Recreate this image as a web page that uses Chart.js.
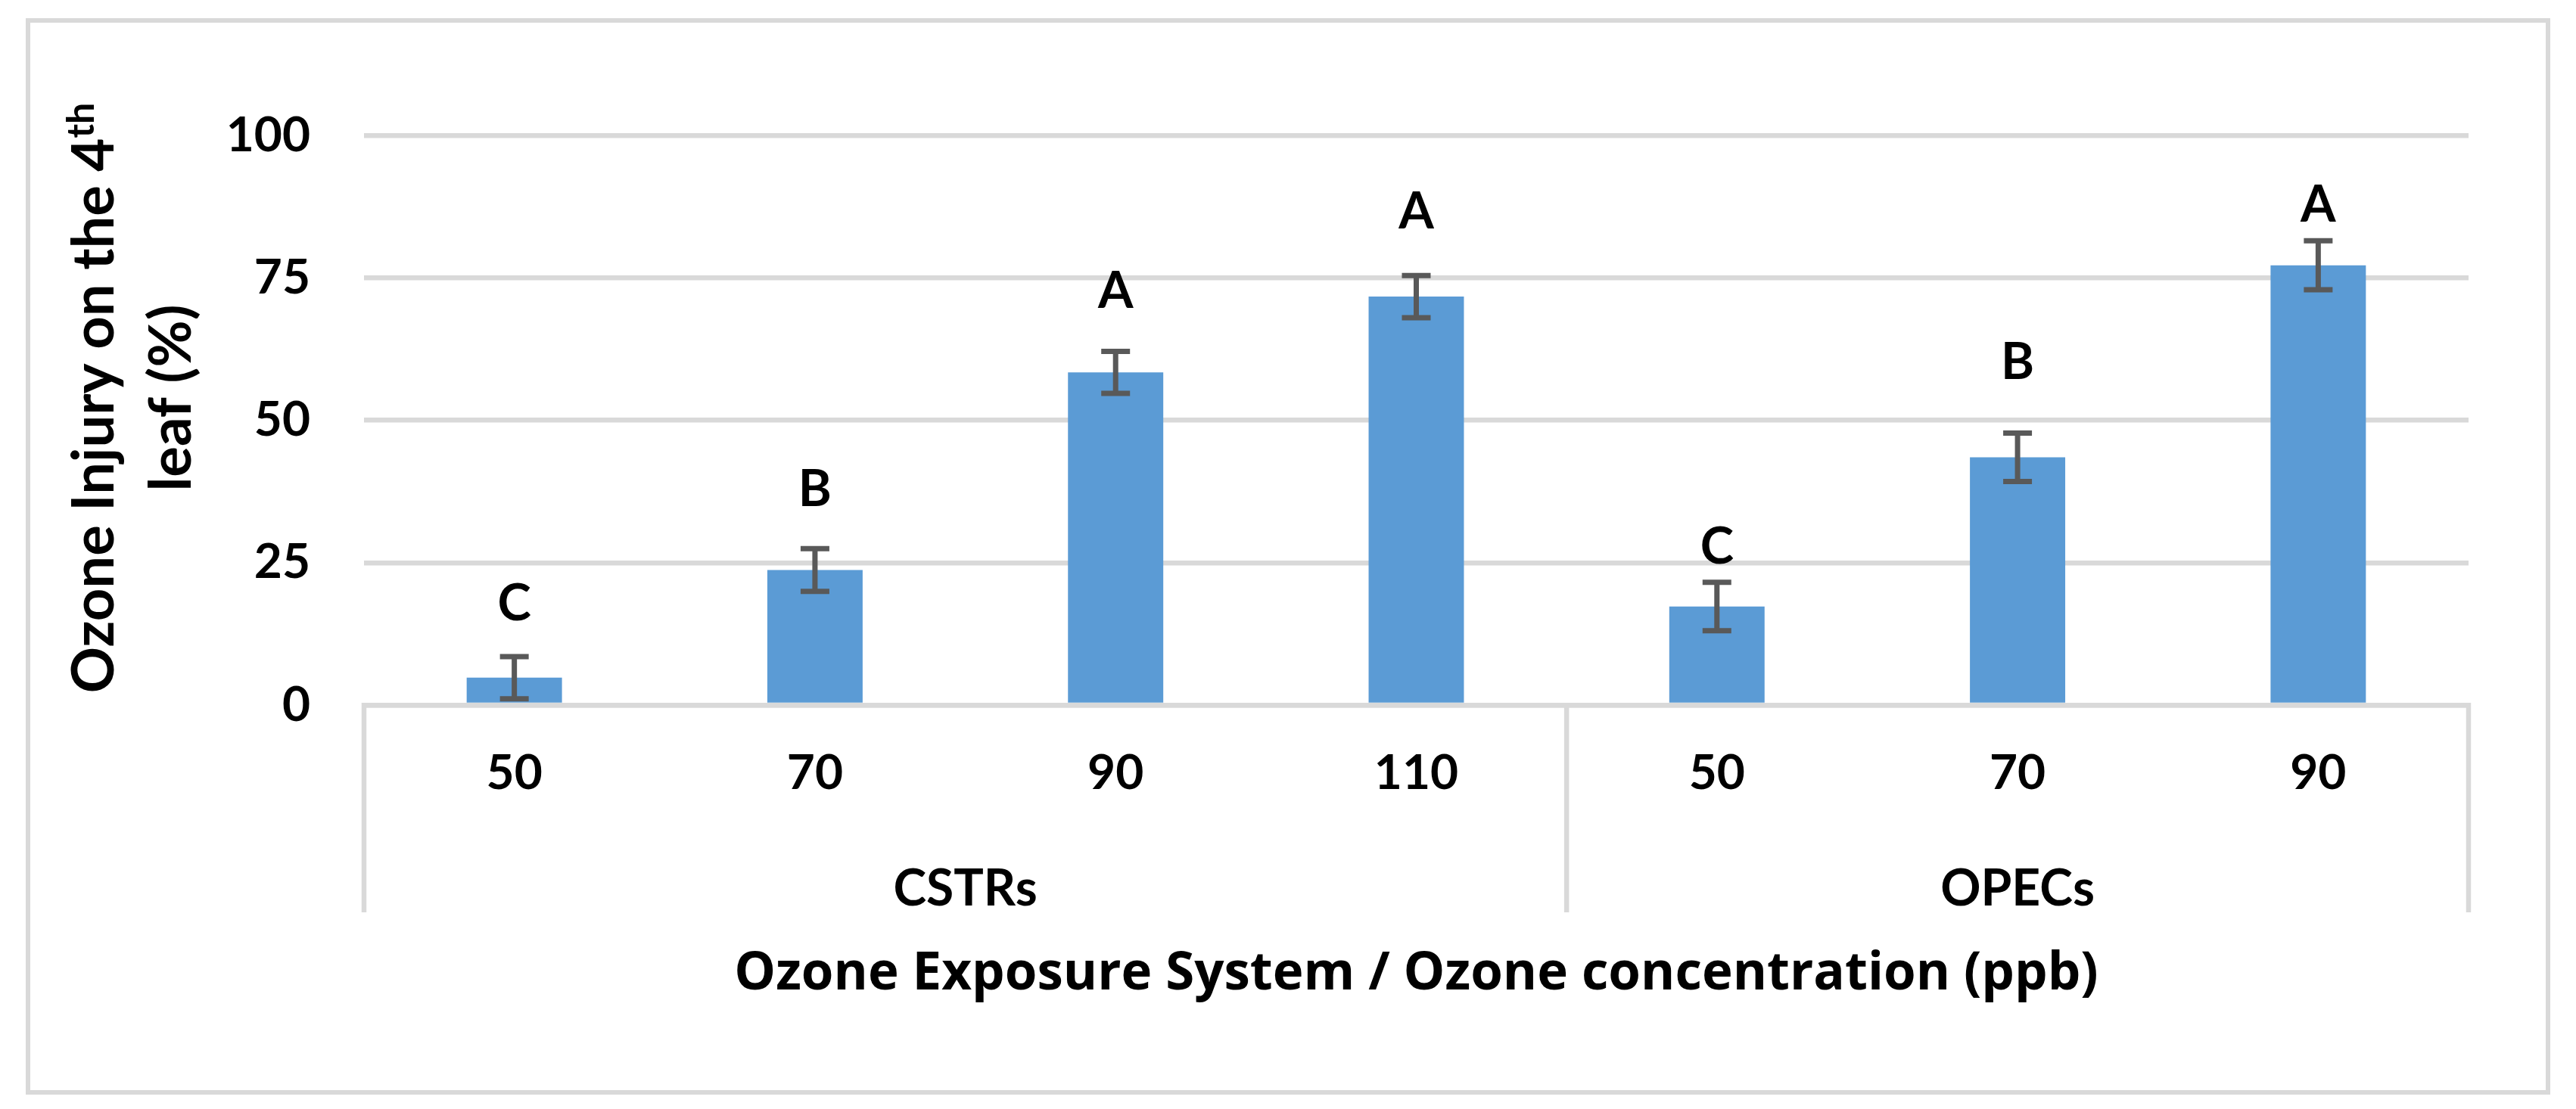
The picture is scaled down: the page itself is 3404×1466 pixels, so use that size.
<!DOCTYPE html>
<html>
<head>
<meta charset="utf-8">
<title>Ozone injury on the 4th leaf</title>
<style>
  html, body { margin: 0; padding: 0; background: #fff; }
  #wrap { width: 3404px; height: 1466px; }
</style>
<script src="https://cdn.jsdelivr.net/npm/chart.js"></script>
</head>
<body>
<div id="wrap"><canvas id="ozoneChart" width="3404" height="1466"></canvas></div>
<script>
// Data (ozone concentration in ppb, injury in %)
const concentrations = ['50', '70', '90', '110', '50', '70', '90'];
const groups = ['CSTRs', 'OPECs'];
const groupSizes = [4, 3];
const injury = [4.8, 23.7, 58.4, 71.7, 17.3, 43.5, 77.2];
const injuryErr = [3.7, 3.75, 3.7, 3.7, 4.25, 4.25, 4.3];
const letters = ['C', 'B', 'A', 'A', 'C', 'B', 'A'];
// letters sit at these heights (in % units, baseline of the letter)
const letterLevel = [14.9, 34.9, 69.7, 83.6, 24.9, 57.2, 84.8];
const yMax = 100;
const yStep = 25;

const FONT = 'Lato';
const GRID = '#d9d9d9';

// outer chart frame
const framePlugin = {
    id: 'frame',
    beforeDraw(chart) {
        const ctx = chart.ctx;
        ctx.save();
        ctx.fillStyle = '#ffffff';
        ctx.fillRect(0, 0, chart.width, chart.height);
        ctx.strokeStyle = GRID;
        ctx.lineWidth = 6;
        ctx.strokeRect(37, 27, 3367 - 37, 1444 - 27);
        ctx.restore();
    }
};

// error bars + significance letters
const errorBarPlugin = {
    id: 'errorBars',
    afterDatasetsDraw(chart) {
        const ctx = chart.ctx;
        const y = chart.scales.y;
        const meta = chart.getDatasetMeta(0);
        ctx.save();
        ctx.strokeStyle = '#595959';
        ctx.lineWidth = 7;
        meta.data.forEach((bar, i) => {
            const top = y.getPixelForValue(injury[i] + injuryErr[i]);
            const bot = y.getPixelForValue(injury[i] - injuryErr[i]);
            ctx.beginPath();
            ctx.moveTo(bar.x, top);
            ctx.lineTo(bar.x, bot);
            ctx.moveTo(bar.x - 19, top);
            ctx.lineTo(bar.x + 19, top);
            ctx.moveTo(bar.x - 19, bot);
            ctx.lineTo(bar.x + 19, bot);
            ctx.stroke();
        });
        ctx.fillStyle = '#000';
        ctx.font = `bold 67px ${FONT}`;
        ctx.textAlign = 'center';
        ctx.textBaseline = 'alphabetic';
        meta.data.forEach((bar, i) => {
            ctx.fillText(letters[i], bar.x, y.getPixelForValue(letterLevel[i]));
        });
        ctx.restore();
    }
};

// two-level category box, group names and the rotated y title
const axisExtrasPlugin = {
    id: 'axisExtras',
    afterDraw(chart) {
        const ctx = chart.ctx;
        const x = chart.scales.x;
        const area = chart.chartArea;
        const lineBottom = 1206;

        // boundaries between groups
        const edges = [area.left];
        let idx = 0;
        groupSizes.forEach(n => {
            idx += n;
            if (idx < concentrations.length) {
                edges.push((x.getPixelForValue(idx - 1) + x.getPixelForValue(idx)) / 2);
            }
        });
        edges.push(area.right);

        ctx.save();
        ctx.strokeStyle = GRID;
        ctx.lineWidth = 6.5;
        ctx.beginPath();
        edges.forEach(ex => {
            ctx.moveTo(ex, area.bottom - 3);
            ctx.lineTo(ex, lineBottom);
        });
        ctx.stroke();

        ctx.fillStyle = '#000';
        ctx.font = `bold 66px ${FONT}`;
        ctx.textAlign = 'center';
        ctx.textBaseline = 'alphabetic';
        groups.forEach((g, i) => {
            ctx.fillText(g, (edges[i] + edges[i + 1]) / 2, 1197);
        });
        ctx.restore();

        // y axis title, two lines with a superscript
        const cy = 526;
        const main = 'Ozone Injury on the 4';
        const sup = 'th';
        ctx.save();
        ctx.fillStyle = '#000';
        ctx.font = `bold 76px ${FONT}`;
        const wMain = ctx.measureText(main).width;
        ctx.font = `bold 50px ${FONT}`;
        const wSup = ctx.measureText(sup).width;
        ctx.translate(150, cy);
        ctx.rotate(-Math.PI / 2);
        ctx.textAlign = 'left';
        ctx.textBaseline = 'alphabetic';
        const start = -(wMain + wSup) / 2;
        ctx.font = `bold 76px ${FONT}`;
        ctx.fillText(main, start, 0);
        ctx.font = `bold 50px ${FONT}`;
        ctx.fillText(sup, start + wMain, -26);
        ctx.restore();

        ctx.save();
        ctx.fillStyle = '#000';
        ctx.font = `bold 76px ${FONT}`;
        ctx.translate(252, cy);
        ctx.rotate(-Math.PI / 2);
        ctx.textAlign = 'center';
        ctx.textBaseline = 'alphabetic';
        ctx.fillText('leaf (%)', 0, 0);
        ctx.restore();
    }
};

const ctx = document.getElementById('ozoneChart').getContext('2d');
new Chart(ctx, {
    type: 'bar',
    data: {
        labels: concentrations,
        datasets: [{
            label: 'Ozone injury (%)',
            data: injury,
            backgroundColor: '#5b9bd5',
            borderWidth: 0,
            barPercentage: 0.317,
            categoryPercentage: 1.0
        }]
    },
    options: {
        responsive: false,
        animation: false,
        devicePixelRatio: 1,
        layout: { padding: { left: 0, top: 179, right: 142, bottom: 0 } },
        plugins: {
            legend: { display: false },
            tooltip: { enabled: false }
        },
        scales: {
            x: {
                z: 1,
                grid: { display: false, drawTicks: false },
                border: { display: true, color: GRID, width: 6.5 },
                ticks: {
                    color: '#000',
                    font: { family: FONT, size: 64, weight: 'bold' },
                    padding: 52,
                    maxRotation: 0,
                    autoSkip: false
                },
                title: {
                    display: true,
                    text: 'Ozone Exposure System / Ozone concentration (ppb)',
                    color: '#000',
                    font: { family: '"Open Sans"', size: 69, weight: 'bold' },
                    padding: { top: 0, bottom: 136 }
                },
                afterFit: s => { s.height = 534; }
            },
            y: {
                min: 0,
                max: yMax,
                grid: { color: GRID, lineWidth: 6.5, drawTicks: false },
                border: { display: false },
                ticks: {
                    stepSize: yStep,
                    color: '#000',
                    font: { family: FONT, size: 64, weight: 'bold' },
                    padding: 71
                },
                afterFit: s => { s.width = 481; }
            }
        }
    },
    plugins: [framePlugin, errorBarPlugin, axisExtrasPlugin]
});
</script>
</body>
</html>
